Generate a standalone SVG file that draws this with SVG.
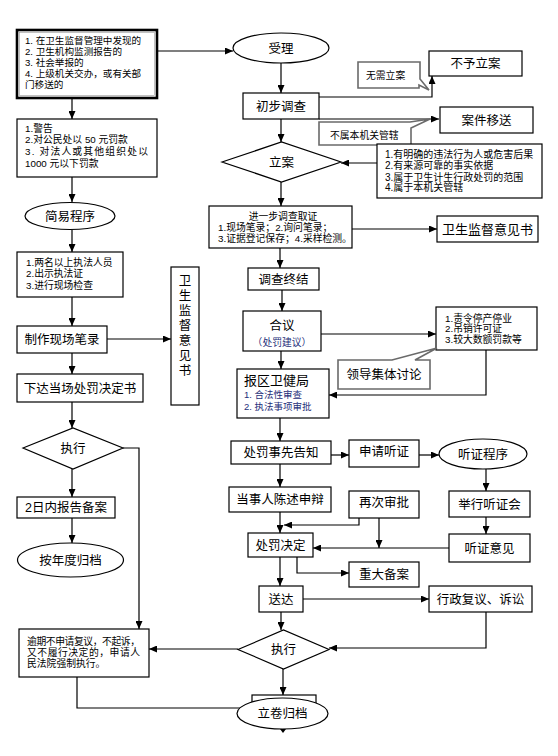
<svg xmlns="http://www.w3.org/2000/svg" width="558" height="756" viewBox="0 0 558 756">
<style>
text{font-family:"Liberation Sans","Noto Sans CJK SC",sans-serif;fill:#000}
.b{fill:#fff;stroke:#000;stroke-width:1.2}
.co{fill:#fff;stroke:#6a6a6a;stroke-width:1.6}
.l{font-size:12.5px;text-anchor:middle}
.s{font-size:9.8px}
.n{font-size:9.8px;fill:#1f2f7a}
.c{fill:none;stroke:#000;stroke-width:1.2}
</style>
<defs>
<marker id="a" markerUnits="userSpaceOnUse" markerWidth="8" markerHeight="7" refX="8" refY="3.5" orient="auto"><path d="M0,0 L8,3.5 L0,7 z" fill="#000"/></marker>
</defs>
<rect width="558" height="756" fill="#fff"/>
<g id="connectors">
<path class="c" marker-end="url(#a)" d="M157,51 H233"/>
<path class="c" marker-end="url(#a)" d="M72,98 V119"/>
<path class="c" marker-end="url(#a)" d="M72,177 V202"/>
<path class="c" marker-end="url(#a)" d="M72,230 V252"/>
<path class="c" marker-end="url(#a)" d="M72,297 V326"/>
<path class="c" marker-end="url(#a)" d="M107,339 H171"/>
<path class="c" marker-end="url(#a)" d="M72,353 V374"/>
<path class="c" marker-end="url(#a)" d="M72,402 V428"/>
<path class="c" marker-end="url(#a)" d="M123,448 H139 V629"/>
<path class="c" marker-end="url(#a)" d="M72,469 V497"/>
<path class="c" marker-end="url(#a)" d="M72,518 V543"/>
<path class="c" marker-end="url(#a)" d="M238,649 H149"/>
<path class="c" marker-end="url(#a)" d="M77,677 V708 H252"/>
<path class="c" marker-end="url(#a)" d="M281,63 V93"/>
<path class="c" marker-end="url(#a)" d="M281,119 V142"/>
<path class="c" marker-end="url(#a)" d="M319,97 H432 V76"/>
<path class="c" marker-end="url(#a)" d="M319,119 H439"/>
<path class="c" marker-end="url(#a)" d="M377,163 H341"/>
<path class="c" marker-end="url(#a)" d="M281,182 V206"/>
<path class="c" marker-end="url(#a)" d="M352,229 H437"/>
<path class="c" marker-end="url(#a)" d="M280,248 V268"/>
<path class="c" marker-end="url(#a)" d="M282,290 V311"/>
<path class="c" marker-end="url(#a)" d="M321,334 H436"/>
<path class="c" marker-end="url(#a)" d="M486,350 V395 H329"/>
<path class="c" marker-end="url(#a)" d="M281,351 V369"/>
<path class="c" marker-end="url(#a)" d="M280,418 V441"/>
<path class="c" marker-end="url(#a)" d="M331,455 H349"/>
<path class="c" marker-end="url(#a)" d="M419,455 H439"/>
<path class="c" marker-end="url(#a)" d="M486,469 V491"/>
<path class="c" marker-end="url(#a)" d="M486,517 V534"/>
<path class="c" marker-end="url(#a)" d="M449,548 H313"/>
<path class="c" marker-end="url(#a)" d="M280,464 V487"/>
<path class="c" marker-end="url(#a)" d="M359,518 V525 H284"/>
<path class="c" marker-end="url(#a)" d="M379,518 V548"/>
<path class="c" marker-end="url(#a)" d="M280,512 V533"/>
<path class="c" marker-end="url(#a)" d="M297,557 V573 H349"/>
<path class="c" marker-end="url(#a)" d="M280,557 V586"/>
<path class="c" marker-end="url(#a)" d="M303,599 H429"/>
<path class="c" marker-end="url(#a)" d="M486,612 V648 H329"/>
<path class="c" marker-end="url(#a)" d="M281,612 V630"/>
<path class="c" marker-end="url(#a)" d="M283,669 V695"/>
</g>
<g id="n-source">
<rect x="17" y="30" width="140" height="68" fill="#fff" stroke="#000" stroke-width="2.6"/>
<rect x="19.5" y="32.5" width="135" height="63" fill="none" stroke="#999" stroke-width="0.6"/>
<text x="25" y="44" style="font-size:9.6px">1. 在卫生监督管理中发现的</text>
<text x="25" y="55" style="font-size:9.6px">2. 卫生机构监测报告的</text>
<text x="25" y="66" style="font-size:9.6px">3. 社会举报的</text>
<text x="25" y="76.5" style="font-size:9.6px">4. 上级机关交办，或有关部</text>
<text x="25" y="87.5" style="font-size:9.6px">门移送的</text>
</g>
<g id="n-penalty">
<rect class="b" x="17" y="119" width="140" height="58"/>
<text class="s" x="25" y="131.5">1.警告</text>
<text class="s" x="25" y="143">2.对公民处以 50 元罚款</text>
<text class="s" x="25" y="154.5" textLength="123" lengthAdjust="spacing">3. 对法人或其他组织处以</text>
<text class="s" x="25" y="166.5">1000 元以下罚款</text>
</g>
<g id="n-simple">
<ellipse cx="70" cy="216" rx="45" ry="13.5" fill="#fff" stroke="#000" stroke-width="1.2"/>
<text class="l" x="70" y="220.5">简易程序</text>
</g>
<g id="n-two">
<rect class="b" x="17" y="252" width="106" height="45"/>
<text class="s" x="26" y="265.5">1.两名以上执法人员</text>
<text class="s" x="26" y="277">2.出示执法证</text>
<text class="s" x="26" y="288.5">3.进行现场检查</text>
</g>
<g id="n-record">
<rect class="b" x="17" y="326" width="90" height="27"/>
<text class="l" x="62" y="344">制作现场笔录</text>
</g>
<g id="n-decision-doc">
<rect class="b" x="17" y="374" width="126" height="28"/>
<text class="l" x="80" y="392.5">下达当场处罚决定书</text>
</g>
<g id="n-exec1">
<polygon points="23,448 73,428 123,448 73,469" fill="#fff" stroke="#000" stroke-width="1.2"/>
<text class="l" x="73" y="453">执行</text>
</g>
<g id="n-report2">
<rect class="b" x="17" y="497" width="98" height="21"/>
<text class="l" x="66" y="512">2日内报告备案</text>
</g>
<g id="n-archive-year">
<ellipse cx="70.5" cy="560" rx="53" ry="17" fill="#fff" stroke="#000" stroke-width="1.2"/>
<text class="l" x="70.5" y="564.5">按年度归档</text>
</g>
<g id="n-overdue">
<rect class="b" x="19" y="629" width="130" height="48"/>
<text class="s" x="27" y="644.5" textLength="113" lengthAdjust="spacing">逾期不申请复议，不起诉，</text>
<text class="s" x="27" y="655.5" textLength="113" lengthAdjust="spacing">又不履行决定的，申请人</text>
<text class="s" x="27" y="667">民法院强制执行。</text>
</g>
<g id="n-opinion-v">
<rect class="b" x="171" y="267" width="28" height="138"/>
<text class="l" x="185" y="285">卫</text>
<text class="l" x="185" y="300">生</text>
<text class="l" x="185" y="315">监</text>
<text class="l" x="185" y="330">督</text>
<text class="l" x="185" y="345">意</text>
<text class="l" x="185" y="360">见</text>
<text class="l" x="185" y="375">书</text>
</g>
<g id="n-accept">
<ellipse cx="281" cy="48" rx="48" ry="15" fill="#fff" stroke="#000" stroke-width="1.2"/>
<text class="l" x="281" y="52.5">受理</text>
</g>
<g id="n-prelim">
<rect class="b" x="243" y="93" width="76" height="26"/>
<text class="l" x="281" y="110.5">初步调查</text>
</g>
<g id="n-norecord">
<rect class="b" x="429" y="51" width="93" height="25"/>
<text class="l" x="475.5" y="68">不予立案</text>
</g>
<g id="n-callout-noneed">
<path class="co" d="M358,62 H420 V79 L429,90 L419,85 V88 H358 Z"/>
<text class="s" x="366" y="79">无需立案</text>
</g>
<g id="n-transfer">
<rect class="b" x="440" y="107" width="93" height="26"/>
<text class="l" x="486.5" y="124.5">案件移送</text>
</g>
<g id="n-callout-notours">
<path class="co" d="M319,122 H410 L430,119 L411,128 V145 H319 Z"/>
<text class="s" x="330" y="139">不属本机关管辖</text>
</g>
<g id="n-file">
<polygon points="222,162 281.5,142 341,162 281.5,182" fill="#fff" stroke="#000" stroke-width="1.2"/>
<text class="l" x="281.5" y="166.5">立案</text>
</g>
<g id="n-criteria">
<rect class="b" x="377" y="144" width="165" height="54"/>
<text x="385" y="157.5" style="font-size:10px">1.有明确的违法行为人或危害后果</text>
<text x="385" y="169" style="font-size:10px">2.有来源可靠的事实依据</text>
<text x="385" y="180.5" style="font-size:10px">3.属于卫生计生行政处罚的范围</text>
<text x="385" y="191" style="font-size:10px">4.属于本机关管辖</text>
</g>
<g id="n-further">
<rect class="b" x="209" y="206" width="143" height="42"/>
<text class="s" x="283" y="219.5" text-anchor="middle">进一步调查取证</text>
<text class="s" x="218" y="230.5">1.现场笔录；2.询问笔录；</text>
<text class="s" x="218" y="241.5">3.证据登记保存；4.采样检测。</text>
</g>
<g id="n-opinion-h">
<rect class="b" x="437" y="216" width="101" height="26"/>
<text class="l" x="487.5" y="233.5" style="font-size:13px">卫生监督意见书</text>
</g>
<g id="n-conclude">
<rect class="b" x="248" y="268" width="71" height="22"/>
<text class="l" x="283.5" y="283.5">调查终结</text>
</g>
<g id="n-discuss">
<rect class="b" x="243" y="311" width="78" height="40"/>
<text class="l" x="282" y="329.5">合议</text>
<text class="n" x="282" y="345.5" text-anchor="middle">（处罚建议）</text>
</g>
<g id="n-major">
<rect class="b" x="436" y="307" width="101" height="43"/>
<text class="s" x="445" y="321.5">1.责令停产停业</text>
<text class="s" x="445" y="331.5">2.吊销许可证</text>
<text class="s" x="445" y="342.5">3.较大数额罚款等</text>
</g>
<g id="n-callout-leader">
<path class="co" d="M338,360 H392 L437,348 L415,360 H430 V389 H338 Z"/>
<text class="l" x="384" y="379">领导集体讨论</text>
</g>
<g id="n-bureau">
<rect class="b" x="237" y="369" width="92" height="49"/>
<text x="244" y="385" style="font-size:13px">报区卫健局</text>
<text class="n" x="244" y="398" style="font-size:9.5px">1. 合法性审查</text>
<text class="n" x="244" y="410" style="font-size:9.5px">2. 执法事项审批</text>
</g>
<g id="n-notice">
<rect class="b" x="231" y="441" width="100" height="23"/>
<text class="l" x="281" y="457">处罚事先告知</text>
</g>
<g id="n-apply">
<rect class="b" x="349" y="440" width="70" height="27"/>
<text class="l" x="384" y="456">申请听证</text>
</g>
<g id="n-hearing">
<ellipse cx="483" cy="454" rx="44" ry="15" fill="#fff" stroke="#000" stroke-width="1.2"/>
<text class="l" x="483" y="458.5">听证程序</text>
</g>
<g id="n-defend">
<rect class="b" x="229" y="487" width="102" height="25"/>
<text class="l" x="280" y="504">当事人陈述申辩</text>
</g>
<g id="n-reapprove">
<rect class="b" x="349" y="491" width="70" height="27"/>
<text class="l" x="384" y="507">再次审批</text>
</g>
<g id="n-hold">
<rect class="b" x="449" y="491" width="81" height="26"/>
<text class="l" x="489.5" y="508.5">举行听证会</text>
</g>
<g id="n-decide">
<rect class="b" x="248" y="533" width="65" height="24"/>
<text class="l" x="280.5" y="549.5">处罚决定</text>
</g>
<g id="n-hopinion">
<rect class="b" x="449" y="534" width="81" height="28"/>
<text class="l" x="489.5" y="552.5">听证意见</text>
</g>
<g id="n-record-major">
<rect class="b" x="349" y="562" width="70" height="25"/>
<text class="l" x="384" y="579">重大备案</text>
</g>
<g id="n-deliver">
<rect class="b" x="259" y="586" width="44" height="26"/>
<text class="l" x="281" y="603.5">送达</text>
</g>
<g id="n-review">
<rect class="b" x="429" y="586" width="103" height="26"/>
<text class="l" x="480.5" y="603.5">行政复议、诉讼</text>
</g>
<g id="n-exec2">
<polygon points="238,649.5 283.5,630 329,649.5 283.5,669" fill="#fff" stroke="#000" stroke-width="1.2"/>
<text class="l" x="283.5" y="654">执行</text>
</g>
<g id="n-archive">
<rect x="252" y="695" width="64" height="20" fill="#fff" stroke="#000" stroke-width="1.2"/>
<ellipse cx="282.5" cy="713.5" rx="45.5" ry="15.5" fill="#fff" stroke="#000" stroke-width="1.2"/>
<text class="l" x="282.5" y="718">立卷归档</text>
<path d="M280,729 L283,733 L286,729 z" fill="#000"/>
</g>
</svg>
